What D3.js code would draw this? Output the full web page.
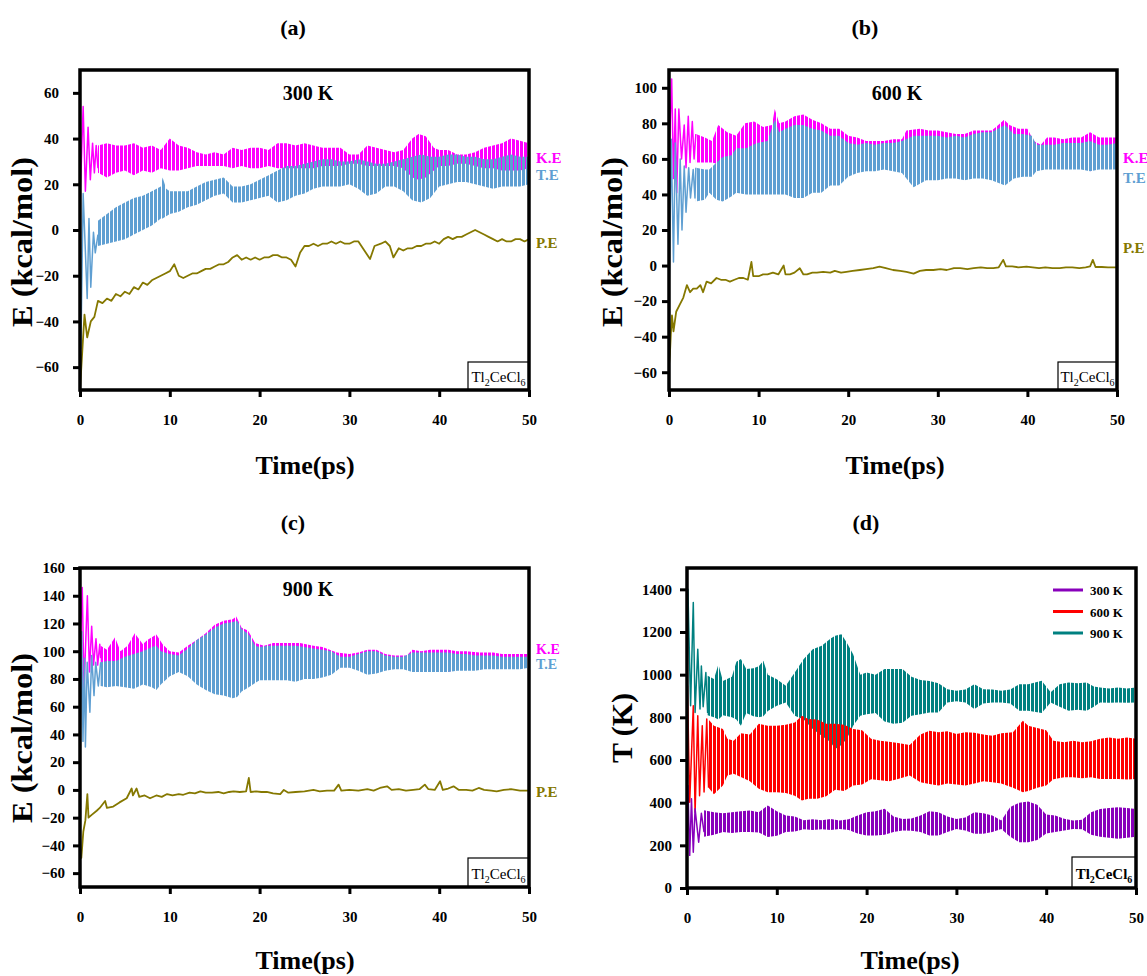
<!DOCTYPE html>
<html>
<head>
<meta charset="utf-8">
<script src="https://cdn.jsdelivr.net/npm/d3@7"></script>
<style>
  body { margin: 0; background: #fff; }
  svg text { font-family: "Liberation Serif", "Times New Roman", serif; font-weight: bold; }
</style>
</head>
<body>
<div id="chart_container"></div>
<script>
// page size
const WIDTH = 1147;
const HEIGHT = 976;

const COLORS = Object.freeze({
  KE: "#ff00ff",
  TE: "#5f9fd2",
  PE: "#857800",
  T300: "#8800bb",
  T600: "#ff0000",
  T900: "#008080",
});

// tick labels
const TIME_TICKS = [0, 10, 20, 30, 40, 50];
const E_TICKS_A = [-60, -40, -20, 0, 20, 40, 60];
const E_TICKS_B = [-60, -40, -20, 0, 20, 40, 60, 80, 100];
const E_TICKS_C = [-60, -40, -20, 0, 20, 40, 60, 80, 100, 120, 140, 160];
const T_TICKS_D = [0, 200, 400, 600, 800, 1000, 1200, 1400];
const ENERGY_SERIES = ["K.E", "T.E", "P.E"];
const TEMP_SERIES = ["300 K", "600 K", "900 K"];

// ---- (a) 300 K : start transients [t, E], oscillation envelopes [t, low, high], P.E [t, E]
const keStartA = [[0,15],[0.15,30],[0.35,54],[0.6,17],[0.9,45],[1.15,22],[1.4,38],[1.6,25],[1.8,37],[2,27]];
const keBandA = [[2,25,37],[3,23,38],[4,25,37],[5,26,37],[6,24,38],[7,26,36],[8,25,37],[9,27,35],[10,26,40],[11,26,37],[12,27,36],[13,28,34],[14,28,33],[15,28,34],[16,28,33],[17,27,36],[18,28,35],[19,27,36],[20,27,36],[21,28,35],[22,27,38],[23,27,38],[24,27,37],[25,27,38],[26,27,37],[27,28,36],[28,28,36],[29,28,36],[30,29,33],[31,29,33],[32,28,37],[33,28,36],[34,28,35],[35,28,34],[36,27,35],[37,23,40],[37.7,22,42],[38.5,23,41],[39.4,26,36],[40,28,35],[41,28,35],[42,29,33],[43,29,33],[44,28,34],[45,27,36],[46,27,37],[47,26,38],[48,26,40],[49,26,39],[50,27,38]];
const teStartA = [[0,16],[0.1,-52],[0.35,16],[0.8,-30],[1,5],[1.2,-25],[1.5,-1],[1.7,-10],[2,-2]];
const teBandA = [[2,-7,4],[3,-6,7],[4,-5,10],[5,-4,12],[6,-2,14],[7,0,15],[8,2,17],[9,5,19],[9.2,5,23],[9.6,6,18],[10,7,17],[11,8,17],[12,10,17],[13,11,19],[14,13,21],[15,15,22],[16,16,23],[17,12,19],[18,12,19],[19,13,20],[20,14,22],[21,15,24],[22,12,26],[23,13,28],[24,15,28],[25,16,29],[26,18,30],[27,19,31],[28,19,31],[29,19,30],[30,20,30],[31,18,31],[32,15,30],[33,16,29],[34,19,29],[35,19,30],[36,17,31],[37,13,32],[38,12,33],[39,14,32],[40,19,32],[41,20,33],[42,21,33],[43,21,32],[44,20,32],[45,19,31],[46,18,31],[47,19,32],[48,19,33],[49,19,32],[50,20,32]];
const peA = [[0,-70],[0.3,-50],[0.5,-37],[0.8,-47],[1.2,-40],[1.6,-38],[2,-31],[2.5,-32],[3,-30],[3.5,-31],[4,-28],[4.5,-29],[5,-27],[5.5,-28],[6,-25],[6.5,-26],[7,-23],[7.5,-24],[8,-22],[8.5,-21],[9,-20],[9.5,-19],[10,-18],[10.5,-15],[11,-20],[11.5,-21],[12,-20],[12.5,-19],[13,-19],[13.5,-18],[14,-17],[14.5,-17],[15,-16],[15.5,-15],[16,-15],[16.5,-14],[17,-12],[17.5,-11],[18,-13],[18.5,-12],[19,-13],[19.5,-12],[20,-13],[20.5,-12],[21,-12],[21.5,-11],[22,-11],[22.5,-12],[23,-12],[23.5,-13],[24,-16],[24.5,-10],[25,-7],[25.5,-7],[26,-6],[26.5,-7],[27,-6],[27.5,-6],[28,-5],[28.5,-6],[29,-5],[29.5,-6],[30,-6],[30.5,-5],[31,-5],[31.5,-8],[32.3,-12.7],[32.8,-7],[33.5,-6],[34,-5],[34.5,-7],[34.9,-12],[35.5,-8],[36,-9],[36.5,-8],[37,-8],[37.5,-7],[38,-7],[38.5,-6],[39,-6],[39.5,-5],[40,-6],[40.5,-4],[41,-3],[41.5,-4],[42,-3],[42.5,-3],[43,-2],[43.5,-1],[44,0],[44.5,-1],[45,-2],[45.5,-3],[46,-4],[46.5,-5],[47,-4],[47.5,-5],[48,-5],[48.5,-4],[49,-4],[49.5,-5],[50,-4]];

// ---- (b) 600 K
const keStartB = [[0,60],[0.3,105],[0.5,49],[0.7,88],[0.86,41],[1.1,88],[1.4,60],[1.7,79],[1.9,55],[2.15,84],[2.35,58],[2.6,81],[2.8,60],[3,74]];
const keBandB = [[3,58,74],[4,58,72],[4.8,58,70],[5.5,57,79],[6.5,57,75],[7.5,58,73],[8.5,57,80],[9.5,57,81],[10.5,57,78],[11.5,56,79],[11.8,56,88],[12.3,56,80],[13,56,81],[14,55,84],[15,55,85],[16,56,82],[17,56,80],[18,56,77],[19,57,77],[20,57,73],[21,57,72],[22,57,70],[23,57,70],[24,56,70],[25,56,71],[26,55,71],[26.5,55,76],[28,55,77],[29,55,76],[30,55,76],[31,55,75],[32,55,74],[33,55,74],[34,55,76],[35,55,76],[36,55,76],[36.5,54,78],[37.4,54,82],[38,54,79],[39,54,77],[40,55,77],[40.7,56,70],[41.5,56,68],[42.2,56,72],[43,56,72],[44,56,71],[45,56,72],[46,56,72],[47,53,75],[48,55,72],[49,56,72],[50,56,72]];
const teStartB = [[0,-20],[0.25,71],[0.5,2],[0.7,69],[1,12],[1.25,60],[1.45,20],[1.7,56],[1.9,30],[2.2,55],[2.4,38],[2.7,54],[2.9,38],[3,55]];
const teBandB = [[3,36,55],[4,37,54],[4.5,41,54],[5.3,37,58],[6,36,61],[7,39,62],[7.5,41,66],[8.6,40,66],[9.8,40,69],[11,40,70],[11.8,40,82],[12.3,40,75],[13,40,77],[14,38,79],[15,38,79],[16,41,77],[17,41,76],[18,45,73],[19,45,73],[20,50,69],[21,52,68],[22,53,69],[23,53,68],[24,54,69],[25,53,69],[26,52,70],[27.3,44,73],[28.7,48,73],[30,48,73],[31,49,72],[32,49,73],[33,48,72],[34,49,74],[35,49,75],[36,48,75],[37.5,45,79],[38.5,49,74],[39.5,50,74],[40.5,50,73],[41,53,68],[42,54,68],[43,54,68],[44,54,69],[45,54,69],[46,54,69],[47,53,70],[48,54,68],[49,54,68],[50,54,69]];
const peB = [[0,-56],[0.1,-50],[0.2,-39],[0.33,-28],[0.5,-37],[0.8,-26],[1.2,-22],[1.6,-18],[2,-11],[2.35,-15],[2.7,-13],[3.1,-13],[3.5,-11],[3.8,-15],[4.2,-9],[4.7,-10],[5.3,-7],[5.8,-8],[6.3,-8],[6.8,-9],[7.3,-8],[7.8,-7],[8.3,-7],[8.8,-8],[9.2,2],[9.4,-6],[10,-6],[10.5,-5],[11,-5],[11.6,-4],[12.2,-5],[12.8,0],[13,-5],[13.5,-5],[14,-4],[14.6,-1.5],[15,-5],[15.4,-5],[16,-4],[16.5,-4],[17.2,-3.5],[18,-4],[18.5,-3],[19.2,-4],[19.8,-3.5],[20.5,-3],[21.3,-2.5],[22,-2],[22.8,-1.5],[23.5,-0.6],[24.2,-1.5],[25,-2.5],[25.8,-3],[26.5,-3.5],[27.3,-4.5],[28,-3],[28.7,-2.5],[29.5,-2.5],[30.3,-2],[31,-2.5],[31.8,-1.5],[32.5,-1.5],[33.3,-2],[34,-1.5],[34.8,-1],[35.5,-1.5],[36.2,-1.5],[36.8,-1],[37.3,3.2],[37.6,-0.5],[38.3,-0.5],[39,-1],[39.9,-0.6],[40.6,-1],[41.3,-1.5],[42,-1],[42.8,-1.5],[43.6,-1.5],[44.3,-1],[45,-1],[45.8,-1.5],[46.5,-1],[47,-0.5],[47.3,3.2],[47.6,-0.8],[48.3,-0.8],[49,-1],[50,-1]];

// ---- (c) 900 K
const keStartC = [[0,104],[0.25,146],[0.45,73],[0.82,140],[1.05,85],[1.3,118],[1.5,90],[1.78,109],[1.97,90],[2.2,105],[2.3,95]];
const keBandC = [[2.3,90,104],[3,90,101],[3.9,90,110],[4.5,91,100],[5.3,89,104],[6.1,88,113],[7,89,105],[7.5,89,108],[8.5,88,112],[9.2,89,105],[10,90,100],[11,91,99],[12,88,104],[13,82,108],[14,74,113],[15,74,119],[16,73,122],[17,70,123],[17.4,70,125],[18,73,117],[18.7,78,115],[19.5,84,106],[20.5,86,104],[21.5,88,106],[23,88,106],[24.5,87,106],[26,88,104],[27,88,103],[28.6,89,99],[30,90,98],[31,89,99],[32,87,101],[33,87,101],[34,88,98],[35,88,97],[36.4,88,97],[37,87,101],[38,86,100],[39,86,101],[40,86,101],[41,85,101],[42,87,100],[43,87,100],[44.5,87,99],[46,88,99],[47,88,98],[48,88,98],[49,88,98],[50,89,98]];
const teStartC = [[0,11],[0.2,114],[0.33,35],[0.5,95],[0.6,31],[0.8,92],[1.1,56],[1.3,97],[1.56,68],[1.75,92],[2.04,75],[2.3,92]];
const teBandC = [[2.3,75,92],[3,74,93],[4,75,93],[5,74,96],[6,73,98],[7,76,100],[8,74,103],[8.5,72,104],[9,76,100],[10,82,98],[11,85,97],[12,82,102],[13,76,108],[14,72,112],[15,69,117],[16,68,120],[17,66,121],[17.5,67,122],[18,71,116],[18.8,74,112],[19.5,77,104],[20,79,103],[21,79,104],[22,79,104],[23,79,104],[24,78,104],[25,80,103],[26,80,102],[27,81,101],[28,83,100],[29,88,96],[30,88,96],[31,86,98],[32,83,100],[33,84,100],[34,86,97],[35,87,96],[36,87,96],[37,85,99],[38,85,99],[39,85,99],[40,85,99],[41,85,99],[42,86,98],[43,86,98],[44,86,97],[45,87,97],[46,87,97],[47,87,96],[48,87,96],[49,87,96],[50,88,96]];
const peC = [[0,-42],[0.15,-49],[0.37,-30],[0.6,-22],[0.82,-3],[0.95,-20],[1.3,-18],[1.86,-15],[2.2,-13],[2.8,-8],[3,-13],[3.7,-12],[4.4,-9],[5.2,-6],[5.75,1],[5.9,-4],[6.3,1],[6.6,-5],[7.2,-4],[7.8,-6],[8.5,-4],[9.1,-5],[9.7,-3],[10.3,-4],[11,-3],[11.5,-3.5],[12.2,-2],[12.8,-2.5],[13.4,-1],[14,-2],[14.7,-2],[15.4,-1.5],[16,-2.5],[16.6,-1.5],[17.1,-1],[17.8,-1.5],[18.5,-1],[18.8,8.6],[19,-1.5],[19.6,-1],[20.2,-1.5],[20.8,-1.4],[21.5,-2.5],[22.3,-3],[22.7,0],[23.2,-2],[24,-1.5],[25,-1],[26,0],[26.7,-1],[27.5,-0.5],[28.3,-0.5],[28.8,3.8],[29.1,-0.5],[30,0],[31,-0.5],[32,0.5],[32.7,-0.5],[33.4,1.4],[34.2,2.6],[34.7,0],[35.5,0.5],[36.3,-0.5],[37.1,0],[37.8,0.5],[38.4,3.8],[38.8,0.5],[39.5,0],[40.1,6.2],[40.4,0],[41,1],[41.6,2.6],[42.2,0],[43,0],[43.7,-0.5],[44.4,1.4],[45,0],[45.8,-0.5],[46.4,-1],[47.2,0],[48,0.5],[49,-0.5],[50,-0.5]];

// ---- (d) temperature
const t900Start = [[0,900],[0.1,1400],[0.4,854],[0.7,1338],[0.9,823],[1.2,1119],[1.45,839],[1.6,1041],[1.8,850],[2.1,1010],[2.3,820]];
const t900Band = [[2.3,810,995],[3,800,980],[3.5,790,1049],[4,810,970],[5,800,990],[5.5,790,1060],[6,761,1073],[6.6,820,1026],[7.4,805,1030],[8,800,1040],[8.5,805,1065],[9,830,1000],[10,854,979],[11,870,948],[12,807,1010],[13,790,1073],[14,745,1119],[15,714,1135],[16,683,1170],[16.5,652,1182],[17.2,670,1190],[17.8,700,1150],[18.5,760,1096],[19.3,807,1000],[20,815,1010],[21,820,1000],[22,780,1026],[23,770,1026],[24,775,1026],[25,807,990],[26,815,975],[27,823,970],[28,823,960],[29,870,932],[30,875,925],[31,870,930],[32,839,955],[33,865,932],[34,870,930],[35,870,925],[36,865,930],[37,831,955],[38,831,955],[39.5,820,971],[40.5,870,917],[41.5,850,955],[42.5,831,963],[43.5,835,960],[44.5,831,963],[45.3,850,945],[46,870,940],[47,868,935],[48,870,940],[49,868,935],[50,870,940]];
const t600Start = [[0,310],[0.05,948],[0.3,402],[0.7,854],[0.9,355],[1.2,807],[1.4,433],[1.7,760],[1.9,450],[2.2,792],[2.4,470]];
const t600Band = [[2.4,470,790],[3,440,760],[4,480,745],[4.5,527,700],[5.2,535,690],[6,520,725],[7,500,720],[8,465,770],[9,449,760],[10,449,761],[11,445,765],[12,433,776],[12.8,410,808],[13.5,418,792],[14.5,418,790],[15.5,430,770],[16.5,460,770],[17.5,455,765],[18.5,480,745],[19.5,485,740],[20.5,510,700],[21.5,505,690],[22.5,500,685],[23.5,511,680],[24.8,527,670],[26,496,720],[27,488,737],[28,480,730],[29,490,735],[30,485,722],[31,480,730],[32,490,728],[33,500,720],[34,496,714],[35,490,725],[36.3,470,730],[37.4,449,784],[38,455,760],[39,470,750],[40,480,740],[40.8,510,690],[42,519,683],[43,519,690],[44,515,683],[45,519,688],[46,511,700],[47,511,706],[48,511,700],[49,509,706],[50,511,700]];
const t300Start = [[0,160],[0.1,480],[0.3,153],[0.5,418],[0.7,168],[0.9,371],[1.3,215],[1.6,350],[1.9,262]];
const t300Band = [[1.9,240,365],[3,250,355],[4,262,350],[5,258,355],[6,262,360],[7,262,363],[8,260,355],[9,239,387],[10,245,360],[11,262,340],[12,265,335],[13,275,318],[14,272,322],[15,275,318],[16,272,324],[17,277,316],[18,272,322],[19,255,340],[20,246,355],[21,246,360],[22,250,371],[23,262,335],[24,270,324],[25,268,326],[26,262,340],[27,246,360],[28,246,355],[29,262,335],[30,277,324],[31,270,330],[32,254,355],[33,254,350],[34,262,340],[35,277,316],[36,240,380],[37,215,400],[38,215,405],[39,225,390],[40,255,345],[41,262,340],[42,270,325],[43,277,316],[44,275,320],[45,250,355],[46,240,370],[47,235,375],[48,231,379],[49,235,375],[50,240,370]];

// create svg
const svg = d3
  .select("#chart_container")
  .append("svg")
  .attr("width", WIDTH)
  .attr("height", HEIGHT);
const defs = svg.append("defs");

// dense oscillations are drawn as striped fills between the envelopes
const stripeId = (color, phase) => {
  const id = `stripe-${color.slice(1)}-${phase}`;
  if (defs.select(`#${id}`).empty()) {
    const p = defs
      .append("pattern")
      .attr("id", id)
      .attr("patternUnits", "userSpaceOnUse")
      .attr("x", phase)
      .attr("width", 4)
      .attr("height", 4);
    p.append("rect").attr("width", 3).attr("height", 4).attr("fill", color);
  }
  return id;
};

const addText = (parent, x, y, text, size, opts = {}) => {
  const t = parent
    .append("text")
    .attr("x", x)
    .attr("y", y)
    .attr("text-anchor", opts.anchor || "middle")
    .attr("fill", opts.color || "#000")
    .style("font-size", size + "px")
    .text(text);
  if (opts.length) t.attr("textLength", opts.length).attr("lengthAdjust", "spacingAndGlyphs");
  return t;
};

// chemical formula with subscripts
const addFormula = (parent, cx, baseline, size, bold) => {
  const t = parent
    .append("text")
    .attr("x", cx)
    .attr("y", baseline)
    .attr("text-anchor", "middle")
    .style("font-size", size + "px")
    .style("font-weight", bold ? "bold" : "normal");
  const sub = Math.round(size * 0.68);
  t.append("tspan").text("Tl");
  t.append("tspan").attr("dy", 4).style("font-size", sub + "px").text("2");
  t.append("tspan").attr("dy", -4).text("CeCl");
  t.append("tspan").attr("dy", 4).style("font-size", sub + "px").text("6");
};

const drawPanel = (cfg) => {
  const { left, top, right, bottom } = cfg.box;
  const w = right - left;
  const h = bottom - top;
  const g = svg.append("g").attr("transform", `translate(${left},${top})`);

  const x = d3.scaleLinear().domain([0, 50]).range([0, w]);
  const y = d3.scaleLinear().domain(cfg.yDomain).range([h, 0]);

  const clipId = `clip-${cfg.name}`;
  defs.append("clipPath").attr("id", clipId).append("rect").attr("width", w).attr("height", h);
  const plot = g.append("g").attr("clip-path", `url(#${clipId})`);

  const area = d3.area().x((d) => x(d[0])).y0((d) => y(d[1])).y1((d) => y(d[2]));
  const line = d3.line().x((d) => x(d[0])).y((d) => y(d[1]));

  cfg.bands.forEach((b) => {
    plot.append("path").datum(b.values).attr("fill", `url(#${stripeId(b.color, b.phase)})`).attr("d", area);
  });
  cfg.lines.forEach((l) => {
    plot
      .append("path")
      .datum(l.values)
      .attr("fill", "none")
      .attr("stroke", l.color)
      .attr("stroke-width", l.width)
      .attr("stroke-linejoin", "round")
      .attr("d", line);
  });

  // axes (left + bottom ticks), frame all round
  const xAxis = g
    .append("g")
    .attr("transform", `translate(0,${h})`)
    .call(d3.axisBottom(x).tickValues(TIME_TICKS).tickSize(7).tickPadding(17));
  const yAxis = g
    .append("g")
    .call(d3.axisLeft(y).tickValues(cfg.yTicks).tickSize(7).tickPadding(cfg.yPad).tickFormat(d3.format("d")));
  [xAxis, yAxis].forEach((a) => {
    a.attr("font-family", null).attr("font-size", null);
    a.select(".domain").remove();
    a.selectAll(".tick line").attr("stroke", "#000").attr("stroke-width", 3);
    a.selectAll(".tick text").attr("fill", "#000").style("font-size", "15px");
  });

  // sample box
  const fb = cfg.formulaBox;
  g.append("rect")
    .attr("x", fb.x - left)
    .attr("y", fb.y - top)
    .attr("width", right - fb.x)
    .attr("height", bottom - fb.y)
    .attr("fill", "#fff")
    .attr("stroke", "#000")
    .attr("stroke-width", 1.2);
  addFormula(g, (fb.x + right) / 2 - left, fb.baseline - top, fb.size, fb.bold);

  g.append("rect")
    .attr("width", w)
    .attr("height", h)
    .attr("fill", "none")
    .attr("stroke", "#000")
    .attr("stroke-width", 3.5);

  return { g, x, y };
};

// ---------- panel (a)
drawPanel({
  name: "a",
  box: { left: 80, top: 70, right: 529, bottom: 390 },
  yDomain: [-70, 70],
  yTicks: E_TICKS_A,
  yPad: 14,
  bands: [
    { values: keBandA, color: COLORS.KE, phase: 0 },
    { values: teBandA, color: COLORS.TE, phase: 2 },
  ],
  lines: [
    { values: keStartA, color: COLORS.KE, width: 1.5 },
    { values: teStartA, color: COLORS.TE, width: 1.5 },
    { values: peA, color: COLORS.PE, width: 1.8 },
  ],
  formulaBox: { x: 468, y: 362, baseline: 382, size: 15, bold: false },
});
addText(svg, 293, 35, "(a)", 22);
addText(svg, 308, 100, "300 K", 20);
addText(svg, 536, 163, ENERGY_SERIES[0], 15, { anchor: "start", color: COLORS.KE });
addText(svg, 536, 180, ENERGY_SERIES[1], 15, { anchor: "start", color: COLORS.TE });
addText(svg, 536, 248, ENERGY_SERIES[2], 15, { anchor: "start", color: COLORS.PE });
addText(svg, 305, 474, "Time(ps)", 26);
addText(svg, 0, 0, "E (kcal/mol)", 30, { length: 170 }).attr("transform", "translate(32,242) rotate(-90)");

// ---------- panel (b)
drawPanel({
  name: "b",
  box: { left: 669, top: 70, right: 1117, bottom: 390 },
  yDomain: [-70, 110],
  yTicks: E_TICKS_B,
  yPad: 5,
  bands: [
    { values: keBandB, color: COLORS.KE, phase: 0 },
    { values: teBandB, color: COLORS.TE, phase: 0 },
  ],
  lines: [
    { values: keStartB, color: COLORS.KE, width: 1.5 },
    { values: teStartB, color: COLORS.TE, width: 1.5 },
    { values: peB, color: COLORS.PE, width: 1.8 },
  ],
  formulaBox: { x: 1058, y: 362, baseline: 382, size: 15, bold: false },
});
addText(svg, 865, 35, "(b)", 22);
addText(svg, 897, 100, "600 K", 20);
addText(svg, 1123, 163, ENERGY_SERIES[0], 15, { anchor: "start", color: COLORS.KE });
addText(svg, 1123, 183, ENERGY_SERIES[1], 15, { anchor: "start", color: COLORS.TE });
addText(svg, 1123, 253, ENERGY_SERIES[2], 15, { anchor: "start", color: COLORS.PE });
addText(svg, 895, 474, "Time(ps)", 26);
addText(svg, 0, 0, "E (kcal/mol)", 30, { length: 170 }).attr("transform", "translate(622,242) rotate(-90)");

// ---------- panel (c)
drawPanel({
  name: "c",
  box: { left: 80, top: 568, right: 529, bottom: 887 },
  yDomain: [-70, 160],
  yTicks: E_TICKS_C,
  yPad: 8,
  bands: [
    { values: keBandC, color: COLORS.KE, phase: 0 },
    { values: teBandC, color: COLORS.TE, phase: 0 },
  ],
  lines: [
    { values: keStartC, color: COLORS.KE, width: 1.5 },
    { values: teStartC, color: COLORS.TE, width: 1.5 },
    { values: peC, color: COLORS.PE, width: 1.8 },
  ],
  formulaBox: { x: 468, y: 858, baseline: 879, size: 15, bold: false },
});
addText(svg, 293, 530, "(c)", 22);
addText(svg, 308, 596, "900 K", 20);
addText(svg, 536, 654, ENERGY_SERIES[0], 14, { anchor: "start", color: COLORS.KE });
addText(svg, 536, 669, ENERGY_SERIES[1], 14, { anchor: "start", color: COLORS.TE });
addText(svg, 536, 797, ENERGY_SERIES[2], 15, { anchor: "start", color: COLORS.PE });
addText(svg, 305, 969, "Time(ps)", 26);
addText(svg, 0, 0, "E (kcal/mol)", 30, { length: 170 }).attr("transform", "translate(32,738) rotate(-90)");

// ---------- panel (d)
drawPanel({
  name: "d",
  box: { left: 687, top: 568, right: 1136, bottom: 888 },
  yDomain: [0, 1500],
  yTicks: T_TICKS_D,
  yPad: 8,
  bands: [
    { values: t900Band, color: COLORS.T900, phase: 0 },
    { values: t600Band, color: COLORS.T600, phase: 2 },
    { values: t300Band, color: COLORS.T300, phase: 0 },
  ],
  lines: [
    { values: t900Start, color: COLORS.T900, width: 1.5 },
    { values: t600Start, color: COLORS.T600, width: 1.5 },
    { values: t300Start, color: COLORS.T300, width: 1.5 },
  ],
  formulaBox: { x: 1072, y: 857, baseline: 879, size: 15, bold: true },
});
addText(svg, 866, 530, "(d)", 22);
addText(svg, 910, 969, "Time(ps)", 26);
addText(svg, 0, 0, "T (K)", 30, { length: 70 }).attr("transform", "translate(632,728) rotate(-90)");

// legend (d)
const legendColors = [COLORS.T300, COLORS.T600, COLORS.T900];
const legend = svg
  .append("g")
  .selectAll("g")
  .data(TEMP_SERIES)
  .enter()
  .append("g")
  .attr("transform", (d, i) => `translate(1053,${590 + i * 21.5})`);
legend
  .append("line")
  .attr("x2", 30)
  .attr("stroke", (d, i) => legendColors[i])
  .attr("stroke-width", 3);
legend
  .append("text")
  .attr("x", 37)
  .attr("y", 5)
  .style("font-size", "13px")
  .text((d) => d);
</script>
</body>
</html>
